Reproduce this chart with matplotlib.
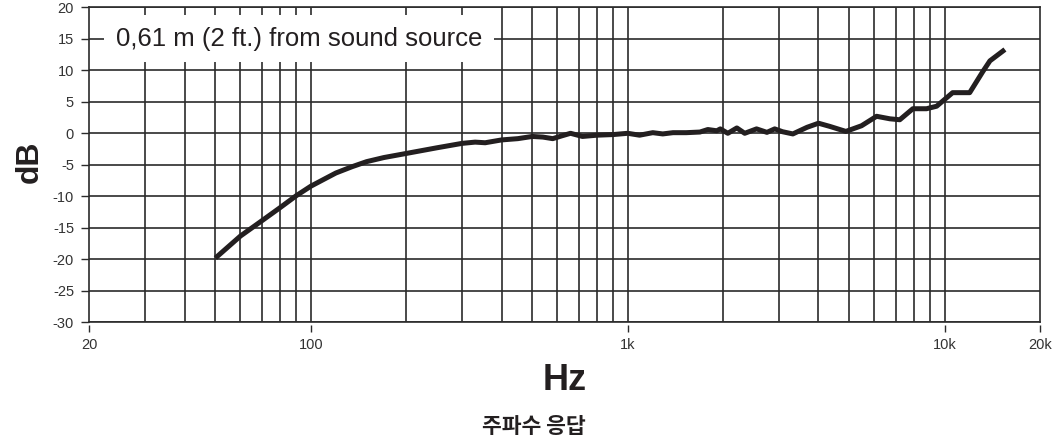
import matplotlib
matplotlib.use("Agg")
import matplotlib.pyplot as plt
import matplotlib.transforms as mtransforms
import numpy as np

# ---- data ----
freq_hz = [50, 60, 70, 80, 90, 100, 110, 120, 135, 150, 170, 200, 250, 300, 330, 355,
           400, 450, 500, 540, 580, 620, 660, 720, 800, 900, 1000, 1090, 1200, 1290,
           1390, 1530, 1690, 1790, 1910, 1960, 2070, 2210, 2340, 2550, 2750, 2910,
           3080, 3320, 3680, 4000, 4340, 4880, 5470, 6100, 6720, 7220, 7940, 8770,
           9440, 10600, 12000, 13200, 13900, 15500]
response_db = [-19.8, -16.3, -13.9, -11.8, -9.9, -8.4, -7.3, -6.3, -5.3, -4.5, -3.85,
               -3.2, -2.3, -1.6, -1.4, -1.5, -1.05, -0.85, -0.5, -0.6, -0.85, -0.4,
               0.0, -0.5, -0.3, -0.2, 0.0, -0.3, 0.1, -0.1, 0.1, 0.1, 0.2, 0.6, 0.4,
               0.7, 0.0, 0.85, 0.0, 0.7, 0.15, 0.7, 0.25, -0.1, 0.95, 1.6, 1.1, 0.3,
               1.2, 2.7, 2.3, 2.15, 3.9, 3.9, 4.3, 6.45, 6.45, 9.8, 11.5, 13.3]

x_ticks = [20, 100, 1000, 10000, 20000]
x_tick_labels = ["20", "100", "1k", "10k", "20k"]
x_grid = [30, 40, 50, 60, 70, 80, 90, 100, 200, 300, 400, 500, 600, 700, 800, 900,
          1000, 2000, 3000, 4000, 5000, 6000, 7000, 8000, 9000, 10000]
y_ticks = [-30, -25, -20, -15, -10, -5, 0, 5, 10, 15, 20]
y_tick_labels = [str(v) for v in y_ticks]

annotation = "0,61 m (2 ft.) from sound source"
x_label = "Hz"
y_label = "dB"
caption = "주파수 응답"

# ---- figure ----
W, H = 1058, 442
fig = plt.figure(figsize=(W / 100, H / 100), dpi=100)
fig.patch.set_facecolor("white")
left, right, top, bottom = 89.3, 1040.0, 7.3, 322.3
ax = fig.add_axes([left / W, 1 - bottom / H, (right - left) / W, (bottom - top) / H])

grid_c = "#2b2b2b"
ink = "#231f20"
tick_font = ["Liberation Sans", "DejaVu Sans"]

ax.set_xscale("log")
ax.set_xlim(20, 20000)
ax.set_ylim(-30, 20)

for xv in x_grid:
    ax.axvline(xv, color=grid_c, lw=1.2, zorder=1)
for yv in y_ticks:
    ax.axhline(yv, color=grid_c, lw=1.2, zorder=1)

ax.plot(freq_hz, response_db, color=ink, lw=3.6, solid_joinstyle="round",
        solid_capstyle="butt", zorder=3)

for s in ax.spines.values():
    s.set_color(grid_c)
    s.set_linewidth(1.2)

# y ticks
ax.set_yticks(y_ticks)
ax.set_yticklabels(y_tick_labels, family=tick_font, fontsize=10.5, color="#333333")
ax.tick_params(axis="y", direction="out", length=6, width=1.0, color=grid_c, pad=5)

# x ticks: small detached marks below the axis
ax.set_xticks(x_ticks)
ax.xaxis.set_minor_locator(matplotlib.ticker.NullLocator())
ax.set_xticklabels(x_tick_labels, family=tick_font, fontsize=10.5, color="#333333")
ax.tick_params(axis="x", length=0, pad=11)
trans = mtransforms.blended_transform_factory(ax.transData, ax.transAxes)
ax.vlines(x_ticks, -0.010, -0.032, transform=trans, color=grid_c, lw=1.0, clip_on=False)

# annotation box
atrans = mtransforms.blended_transform_factory(ax.transAxes, ax.transData)
ax.text(0.2205, 15, annotation, transform=atrans, ha="center", va="center",
        fontsize=18.5, family=tick_font, color=ink, zorder=5,
        bbox=dict(boxstyle="square,pad=0.45", fc="white", ec="none"))

# axis titles
fig.text(30 / W, 1 - 161.5 / H, y_label, rotation=90, ha="center", va="center",
         fontsize=23, fontweight="bold", family=tick_font, color=ink)
fig.text(564.7 / W, 1 - 380.5 / H, x_label, ha="center", va="center",
         fontsize=26, fontweight="bold", family=tick_font, color=ink)
fig.text(533.5 / W, 1 - 426.5 / H, caption, ha="center", va="center",
         fontsize=15.5, fontweight="bold", family=["Noto Sans CJK KR", "DejaVu Sans"],
         color=ink)

fig.savefig("out.png", dpi=100, facecolor="white")
